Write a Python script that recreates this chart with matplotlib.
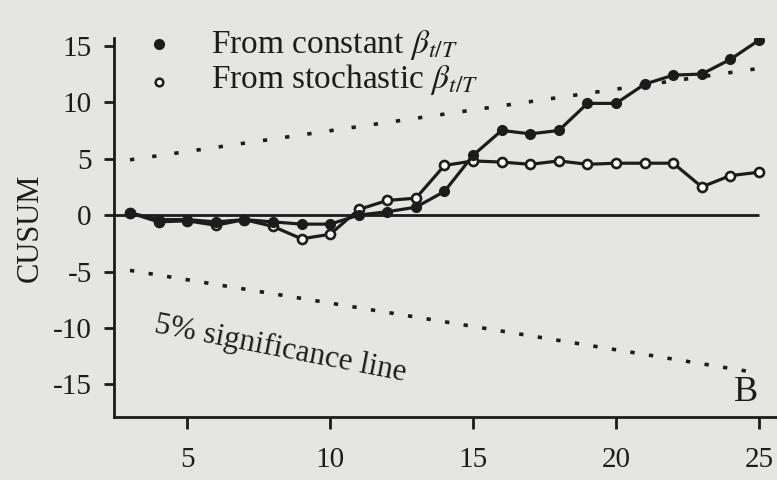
import numpy as np
import matplotlib
matplotlib.use("Agg")
import matplotlib.pyplot as plt

plt.rcParams['font.family'] = ['Liberation Serif', 'DejaVu Serif']
plt.rcParams['mathtext.fontset'] = 'stix'
plt.rcParams['axes.unicode_minus'] = False

# data
t = [3, 4, 5, 6, 7, 8, 9, 10, 11, 12, 13, 14, 15, 16, 17, 18, 19, 20, 21, 22, 23, 24, 25]
cusum_const = [0.2, -0.4, -0.4, -0.6, -0.4, -0.6, -0.8, -0.8, 0.0, 0.3, 0.7, 2.1, 5.3,
               7.5, 7.2, 7.5, 9.9, 9.9, 11.6, 12.4, 12.5, 13.8, 15.5]
cusum_stoch = [0.2, -0.6, -0.5, -0.9, -0.4, -1.0, -2.1, -1.7, 0.5, 1.3, 1.5, 4.4, 4.8,
               4.7, 4.5, 4.8, 4.5, 4.6, 4.6, 4.6, 2.5, 3.5, 3.8]
band_t = [3, 25]
band_upper = [4.9, 13.0]
band_lower = [-4.9, -14.0]
xticks = [5, 10, 15, 20, 25]
yticks = [-15, -10, -5, 0, 5, 10, 15]
legend_labels = [r'From constant $\beta_{t/T}$', r'From stochastic $\beta_{t/T}$']

bg = '#e5e5e3'
ink = '#1c1c1c'

fig = plt.figure(figsize=(7.77, 4.80), dpi=100, facecolor=bg)
ax = fig.add_axes([0.1467, 0.131, 0.8533, 0.79], facecolor=bg)

ax.plot(band_t, band_upper, color=ink, lw=2.6, ls=(0, (1.2, 5)))
ax.plot(band_t, band_lower, color=ink, lw=2.6, ls=(0, (1.2, 4)))
ax.hlines(0, 2.4, 25, color=ink, lw=2.0)

ax.plot(t, cusum_stoch, color=ink, lw=2.3, marker='o', ms=6.5,
        mfc='white', mec=ink, mew=1.9, zorder=3)
ax.plot(t, cusum_const, color=ink, lw=2.3, marker='o', ms=7,
        mfc=ink, mec=ink, zorder=4)

# hand-placed legend (rows are tighter than ax.legend allows)
ax.plot([0.204], [0.908], transform=fig.transFigure, ls='none', marker='o',
        ms=7, mfc=ink, mec=ink, clip_on=False)
ax.plot([0.204], [0.830], transform=fig.transFigure, ls='none', marker='o',
        ms=5.5, mfc='white', mec=ink, mew=1.8, clip_on=False)
fig.text(0.2716, 1 - 53 / 480, legend_labels[0], fontsize=24, va='baseline', color=ink)
fig.text(0.2716, 1 - 88 / 480, legend_labels[1], fontsize=24, va='baseline', color=ink)

ax.text(3.8, -10.4, '5% significance line', fontsize=22.5, rotation=-11,
        rotation_mode='anchor', ha='left', va='baseline', color=ink)
ax.text(24.55, -16.5, 'B', fontsize=26, ha='center', va='baseline', color=ink)

ax.set_xlim(2.44, 25.63)
ax.set_ylim(-17.9, 15.7)
ax.set_xticks(xticks)
ax.set_yticks(yticks)
ax.set_ylabel('CUSUM', fontsize=22, color=ink, labelpad=6)

for s in ['top', 'right']:
    ax.spines[s].set_visible(False)
for s in ['left', 'bottom']:
    ax.spines[s].set_linewidth(2.0)
    ax.spines[s].set_color(ink)
ax.tick_params(axis='both', colors=ink, width=2.0, labelsize=21)
ax.tick_params(axis='y', length=7, pad=9)
ax.tick_params(axis='x', length=8.5, pad=13)

fig.savefig('out.png', dpi=100, facecolor=bg)
